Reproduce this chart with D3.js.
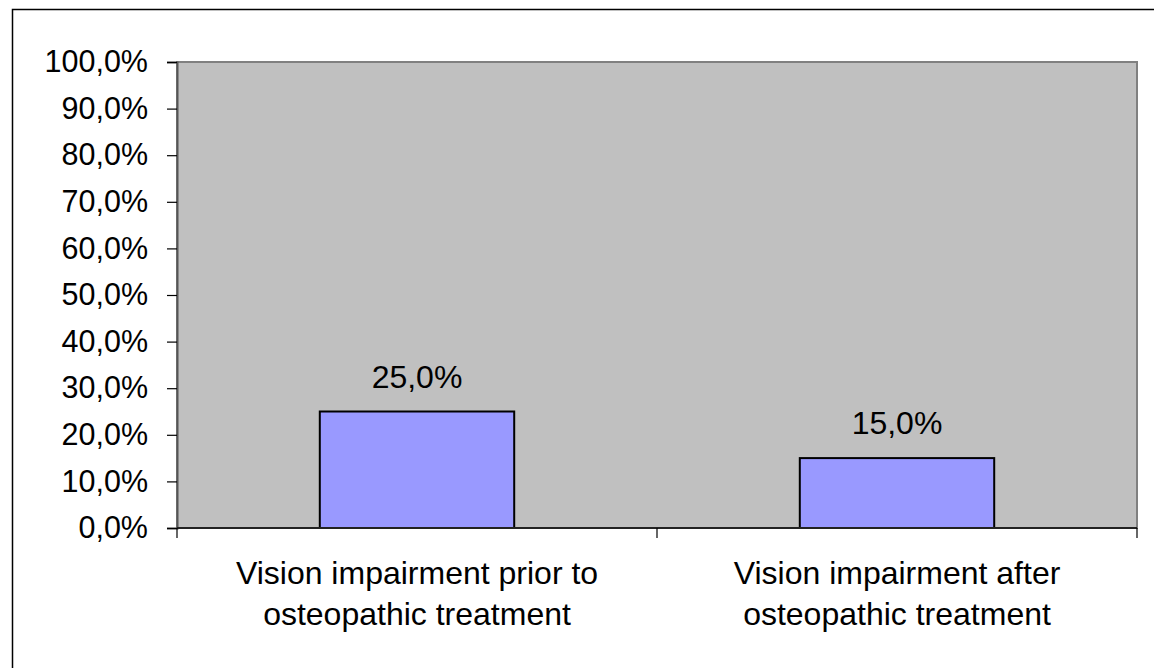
<!DOCTYPE html>
<html>
<head>
<meta charset="utf-8">
<script src="https://cdn.jsdelivr.net/npm/d3@7"></script>
<style>
  html, body { margin: 0; padding: 0; background: #fff; }
  svg { display: block; }
  text { font-family: "Liberation Sans", Arial, sans-serif; fill: #000; }
</style>
</head>
<body>
<script>
// Share of patients with vision impairment, before and after treatment
const categories = [
  ["Vision impairment prior to", "osteopathic treatment"],
  ["Vision impairment after", "osteopathic treatment"]
];
const values = [25.0, 15.0];
const yTicks = [0, 10, 20, 30, 40, 50, 60, 70, 80, 90, 100];

const W = 1154, H = 668;
const plot = { left: 177, right: 1137, top: 62, bottom: 528 };

const fmt = v => v.toFixed(1).replace(".", ",") + "%";

const svg = d3.select("body").append("svg")
  .attr("width", W).attr("height", H);

// outer chart frame
svg.append("rect")
  .attr("x", 12.5).attr("y", 9.5)
  .attr("width", W + 20).attr("height", H + 20)
  .attr("fill", "#fff").attr("stroke", "#000").attr("stroke-width", 1.5);

const x = d3.scaleBand()
  .domain(d3.range(categories.length))
  .range([plot.left, plot.right])
  .paddingInner(0).paddingOuter(0);

const y = d3.scaleLinear().domain([0, 100]).range([plot.bottom, plot.top]);

// plot area background with grey border
svg.append("rect")
  .attr("x", plot.left).attr("y", plot.top)
  .attr("width", plot.right - plot.left).attr("height", plot.bottom - plot.top)
  .attr("fill", "#c0c0c0").attr("stroke", "#808080").attr("stroke-width", 2);

// bars
const barFrac = 0.405;
svg.selectAll("rect.bar").data(values).join("rect")
  .attr("class", "bar")
  .attr("x", (d, i) => x(i) + x.bandwidth() * (1 - barFrac) / 2)
  .attr("width", x.bandwidth() * barFrac)
  .attr("y", d => y(d))
  .attr("height", d => y(0) - y(d))
  .attr("fill", "#9999ff").attr("stroke", "#000").attr("stroke-width", 2);

// value labels
svg.selectAll("text.val").data(values).join("text")
  .attr("class", "val")
  .attr("x", (d, i) => x(i) + x.bandwidth() / 2)
  .attr("y", d => y(d) - 24)
  .attr("text-anchor", "middle")
  .style("font-size", "32px")
  .text(d => fmt(d));

// y axis
const yAxis = svg.append("g")
  .attr("transform", `translate(${plot.left},0)`)
  .call(d3.axisLeft(y).tickValues(yTicks).tickFormat(fmt).tickSize(10).tickPadding(19));
yAxis.select(".domain").attr("stroke", "#555").attr("stroke-width", 2);
yAxis.selectAll(".tick line").attr("stroke", "#000").attr("stroke-width", 1.2);
yAxis.selectAll(".tick text")
  .style("font-size", "30.5px").attr("fill", "#000");

// x axis baseline and category ticks
const xTickPos = d3.range(categories.length + 1).map(i =>
  i < categories.length ? x(i) : x(categories.length - 1) + x.bandwidth());
svg.append("line")
  .attr("x1", plot.left).attr("x2", plot.right)
  .attr("y1", plot.bottom).attr("y2", plot.bottom)
  .attr("stroke", "#222").attr("stroke-width", 2);
svg.selectAll("line.xtick").data(xTickPos).join("line")
  .attr("class", "xtick")
  .attr("x1", d => d).attr("x2", d => d)
  .attr("y1", plot.bottom).attr("y2", plot.bottom + 10)
  .attr("stroke", "#000").attr("stroke-width", 1.2);

// category labels (two lines each)
const cat = svg.selectAll("text.cat").data(categories).join("text")
  .attr("class", "cat")
  .attr("text-anchor", "middle")
  .style("font-size", "32px");
cat.selectAll("tspan").data((d, i) => d.map(s => ({ s, i }))).join("tspan")
  .attr("x", d => x(d.i) + x.bandwidth() / 2)
  .attr("y", (d, j) => 584 + j * 41)
  .text(d => d.s);
</script>
</body>
</html>
